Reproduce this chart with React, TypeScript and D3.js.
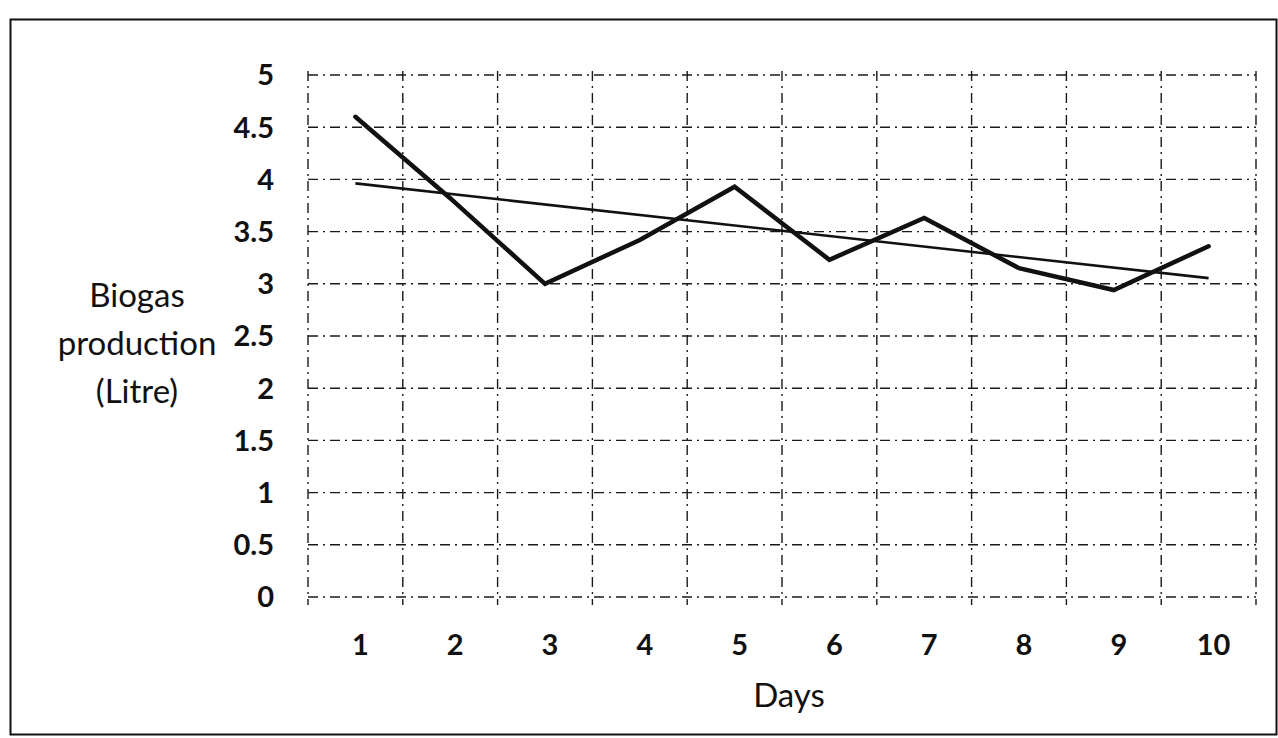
import React from "react";
import * as d3 from "d3";

const days: string[] = ["1", "2", "3", "4", "5", "6", "7", "8", "9", "10"];
const biogas: number[] = [4.6, 3.82, 3.0, 3.42, 3.93, 3.23, 3.63, 3.15, 2.94, 3.36];
const yTicks: number[] = [0, 0.5, 1, 1.5, 2, 2.5, 3, 3.5, 4, 4.5, 5];
const yLabelLines: string[] = ["Biogas", "production", "(Litre)"];
const xTitle = "Days";

const W = 1278;
const H = 738;
const plot = { left: 308, right: 1256, top: 75, bottom: 597 };
const FONT = "Lato, 'Open Sans', sans-serif";

export default function App() {
  const x = d3.scaleBand<string>().domain(days).range([plot.left, plot.right]).padding(0);
  const y = d3.scaleLinear().domain([0, 5]).range([plot.bottom, plot.top]);
  const cx = (d: string) => (x(d) as number) + x.bandwidth() / 2;

  const pts: [number, number][] = days.map((d, i) => [cx(d), y(biogas[i])]);
  const line = d3.line();

  // linear trendline (least squares) from the series
  const xs = days.map((_, i) => i + 1);
  const mx = d3.mean(xs) as number;
  const my = d3.mean(biogas) as number;
  const slope =
    (d3.sum(xs, (v, i) => (v - mx) * (biogas[i] - my)) as number) /
    (d3.sum(xs, (v) => (v - mx) * (v - mx)) as number);
  const trend = (k: number) => my + slope * (k - mx);
  const trendPts: [number, number][] = [
    [cx(days[0]), y(trend(1))],
    [cx(days[days.length - 1]), y(trend(days.length))],
  ];

  const boundaries = [...days.map((d) => x(d) as number), plot.right];
  const dash = "10,5,2,5";

  return (
    <svg
      width={W}
      height={H}
      viewBox={`0 0 ${W} ${H}`}
      style={{ position: "absolute", left: 0, top: 0, background: "#fff" }}
    >
      <rect x={0} y={0} width={W} height={H} fill="#fff" />
      <rect x={10.5} y={19.5} width={1266} height={715} fill="none" stroke="#111" strokeWidth={2} />

      {/* horizontal gridlines */}
      {yTicks.map((t) => (
        <line
          key={"h" + t}
          x1={plot.left}
          x2={plot.right}
          y1={y(t)}
          y2={y(t)}
          stroke="#1a1a1a"
          strokeWidth={1.4}
          strokeDasharray={dash}
        />
      ))}
      {/* vertical gridlines */}
      {boundaries.map((bx, i) => (
        <line
          key={"v" + i}
          x1={bx}
          x2={bx}
          y1={plot.top - 4}
          y2={plot.bottom + 8}
          stroke="#1a1a1a"
          strokeWidth={1.4}
          strokeDasharray={dash}
        />
      ))}

      {/* y tick labels */}
      {yTicks.map((t) => (
        <text
          key={"yl" + t}
          x={274}
          y={y(t)}
          dy="0.36em"
          textAnchor="end"
          fontFamily={FONT}
          fontWeight={700}
          fontSize={29}
          fill="#111"
        >
          {String(t)}
        </text>
      ))}

      {/* x tick labels */}
      {days.map((d) => (
        <text
          key={"xl" + d}
          x={cx(d) + 5}
          y={655}
          textAnchor="middle"
          fontFamily={FONT}
          fontWeight={700}
          fontSize={29}
          fill="#111"
        >
          {d}
        </text>
      ))}

      {/* axis titles */}
      <text x={789} y={707} textAnchor="middle" fontFamily={FONT} fontSize={33} fill="#111">
        {xTitle}
      </text>
      {yLabelLines.map((s, i) => (
        <text
          key={s}
          x={137}
          y={307 + i * 48}
          textAnchor="middle"
          fontFamily={FONT}
          fontSize={33}
          fill="#111"
        >
          {s}
        </text>
      ))}

      {/* trendline */}
      <path d={line(trendPts) || ""} fill="none" stroke="#111" strokeWidth={2.6} />
      {/* series */}
      <path
        d={line(pts) || ""}
        fill="none"
        stroke="#111"
        strokeWidth={4.5}
        strokeLinejoin="miter"
        strokeLinecap="round"
      />
    </svg>
  );
}
